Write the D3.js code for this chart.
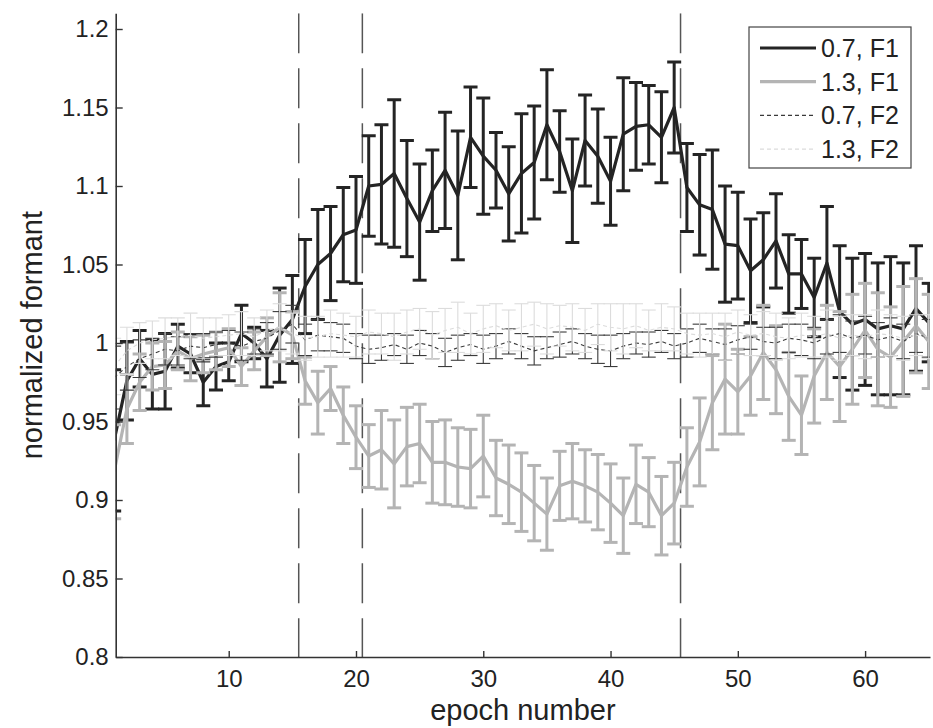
<!DOCTYPE html>
<html>
<head>
<meta charset="utf-8">
<script src="https://cdn.jsdelivr.net/npm/d3@7"></script>
<style>
  body { margin: 0; background: #fff; }
  text { font-family: "Liberation Sans", Arial, Helvetica, sans-serif; fill: #222; }
</style>
</head>
<body>
<div id="graph"></div>
<script>
// data: epochs 1..65, four conditions (mean and error)
var epochs = d3.range(1, 66);

var mean07F1 = [0.938, 0.976, 0.990, 0.980, 0.982, 0.998, 0.993, 0.975, 0.985, 0.988,
  1.006, 1.000, 0.990, 1.005, 1.015, 1.036, 1.050, 1.057, 1.069, 1.072,
  1.100, 1.101, 1.108, 1.092, 1.077, 1.097, 1.110, 1.094, 1.131, 1.119,
  1.110, 1.095, 1.108, 1.115, 1.139, 1.122, 1.097, 1.129, 1.119, 1.103,
  1.133, 1.138, 1.139, 1.131, 1.150, 1.099, 1.088, 1.085, 1.063, 1.062,
  1.046, 1.053, 1.065, 1.044, 1.044, 1.029, 1.051, 1.020, 1.012, 1.015,
  1.009, 1.011, 1.009, 1.022, 1.013];
var err07F1 = [0.045, 0.025, 0.018, 0.022, 0.024, 0.014, 0.012, 0.015, 0.015, 0.012,
  0.018, 0.010, 0.018, 0.030, 0.028, 0.030, 0.035, 0.030, 0.030, 0.034,
  0.032, 0.038, 0.047, 0.037, 0.037, 0.026, 0.037, 0.041, 0.032, 0.037,
  0.024, 0.030, 0.038, 0.036, 0.035, 0.026, 0.033, 0.029, 0.030, 0.028,
  0.036, 0.028, 0.025, 0.029, 0.029, 0.028, 0.032, 0.038, 0.037, 0.034,
  0.033, 0.030, 0.030, 0.025, 0.022, 0.025, 0.036, 0.042, 0.042, 0.042,
  0.042, 0.044, 0.042, 0.040, 0.025];

var mean13F1 = [0.918, 0.958, 0.975, 0.985, 0.986, 0.995, 0.990, 0.993, 0.995, 0.997,
  0.985, 0.995, 1.004, 1.010, 1.005, 0.976, 0.962, 0.971, 0.954, 0.940,
  0.928, 0.932, 0.923, 0.934, 0.936, 0.924, 0.924, 0.921, 0.920, 0.928,
  0.914, 0.910, 0.905, 0.898, 0.891, 0.909, 0.912, 0.909, 0.905, 0.898,
  0.890, 0.910, 0.905, 0.890, 0.898, 0.921, 0.937, 0.962, 0.977, 0.969,
  0.979, 0.994, 0.983, 0.966, 0.954, 0.979, 0.994, 0.985, 0.996, 1.008,
  0.996, 0.991, 1.001, 1.011, 1.001];
var err13F1 = [0.030, 0.022, 0.018, 0.015, 0.015, 0.012, 0.014, 0.012, 0.012, 0.012,
  0.012, 0.012, 0.012, 0.022, 0.015, 0.015, 0.020, 0.014, 0.018, 0.020,
  0.020, 0.025, 0.028, 0.025, 0.025, 0.026, 0.027, 0.025, 0.025, 0.026,
  0.024, 0.025, 0.025, 0.024, 0.023, 0.022, 0.024, 0.023, 0.024, 0.025,
  0.024, 0.025, 0.022, 0.025, 0.026, 0.025, 0.028, 0.030, 0.035, 0.027,
  0.025, 0.030, 0.028, 0.028, 0.025, 0.030, 0.030, 0.035, 0.035, 0.030,
  0.036, 0.032, 0.035, 0.030, 0.030];

var mean07F2 = [0.978, 0.985, 0.990, 0.993, 0.996, 0.995, 0.998, 0.997, 0.999, 1.000,
  0.998, 1.001, 1.003, 1.008, 1.012, 1.002, 1.005, 1.004, 1.003, 0.998,
  0.996, 0.997, 0.999, 0.996, 1.000, 0.998, 0.994, 0.997, 0.999, 0.996,
  0.998, 1.001, 0.998, 0.995, 0.997, 0.999, 1.001, 0.998, 0.996, 0.995,
  0.998, 1.000, 0.999, 1.001, 0.998, 1.000, 1.003, 1.001, 0.999, 1.002,
  1.004, 1.001, 1.000, 1.003, 1.002, 1.000, 1.004, 1.006, 1.003, 1.005,
  1.002, 1.004, 1.001, 1.006, 1.003];
var err07F2 = [0.020, 0.015, 0.012, 0.010, 0.010, 0.009, 0.008, 0.009, 0.008, 0.008,
  0.009, 0.008, 0.010, 0.012, 0.012, 0.010, 0.010, 0.009, 0.009, 0.008,
  0.009, 0.008, 0.007, 0.009, 0.008, 0.008, 0.009, 0.008, 0.007, 0.009,
  0.008, 0.008, 0.008, 0.009, 0.007, 0.008, 0.008, 0.008, 0.009, 0.010,
  0.008, 0.007, 0.008, 0.007, 0.008, 0.009, 0.009, 0.008, 0.010, 0.009,
  0.008, 0.009, 0.010, 0.009, 0.010, 0.010, 0.011, 0.012, 0.011, 0.012,
  0.011, 0.012, 0.011, 0.012, 0.012];

var mean13F2 = [0.985, 0.995, 1.000, 1.002, 1.003, 1.004, 1.005, 1.003, 1.004, 1.005,
  1.006, 1.004, 1.008, 1.010, 1.006, 1.003, 1.004, 1.006, 1.005, 1.004,
  1.007, 1.006, 1.004, 1.007, 1.009, 1.005, 1.008, 1.010, 1.006, 1.009,
  1.011, 1.008, 1.010, 1.012, 1.009, 1.011, 1.010, 1.008, 1.012, 1.010,
  1.009, 1.011, 1.008, 1.010, 1.009, 1.006, 1.005, 1.006, 1.004, 1.007,
  1.005, 1.006, 1.004, 1.003, 1.005, 1.004, 1.006, 1.003, 1.005, 1.004,
  1.006, 1.005, 1.003, 1.005, 1.004];
var err13F2 = [0.018, 0.015, 0.013, 0.012, 0.013, 0.012, 0.014, 0.013, 0.012, 0.013,
  0.014, 0.012, 0.013, 0.015, 0.013, 0.014, 0.013, 0.015, 0.014, 0.013,
  0.014, 0.013, 0.015, 0.014, 0.013, 0.015, 0.014, 0.016, 0.013, 0.015,
  0.014, 0.013, 0.015, 0.014, 0.016, 0.013, 0.015, 0.014, 0.013, 0.015,
  0.016, 0.014, 0.013, 0.015, 0.014, 0.013, 0.014, 0.013, 0.015, 0.014,
  0.013, 0.014, 0.015, 0.013, 0.014, 0.013, 0.015, 0.014, 0.013, 0.014,
  0.015, 0.013, 0.014, 0.013, 0.014];

var seriesNames = ["0.7, F1", "1.3, F1", "0.7, F2", "1.3, F2"];
var boundaries = [15.5, 20.5, 45.5];
var xTicks = [10, 20, 30, 40, 50, 60];
var yTicks = [0.8, 0.85, 0.9, 0.95, 1, 1.05, 1.1, 1.15, 1.2];

var w = 933, h = 728;
var svg = d3.select("#graph").append("svg").attr("width", w).attr("height", h);

var x = d3.scaleLinear().domain([1.12, 65.1]).range([115.7, 930]);
var y = d3.scaleLinear().domain([0.8, 1.21]).range([657, 13.3]);

// series styles (colour, width, dash)
var styles = [
  {color: "#242424", width: 3.2, dash: null, barWidth: 3},
  {color: "#b4b4b4", width: 3.2, dash: null, barWidth: 3},
  {color: "#3a3a3a", width: 1.1, dash: "4,3", barWidth: 1.1},
  {color: "#dcdcdc", width: 1.1, dash: "4,3", barWidth: 1.1}
];
var means = [mean07F1, mean13F1, mean07F2, mean13F2];
var errs = [err07F1, err13F1, err07F2, err13F2];

svg.append("clipPath").attr("id", "plotclip")
  .append("rect")
  .attr("x", x.range()[0]).attr("y", y.range()[1])
  .attr("width", x.range()[1] - x.range()[0])
  .attr("height", y.range()[0] - y.range()[1]);

var plot = svg.append("g").attr("clip-path", "url(#plotclip)");

// boundary lines between phases
plot.selectAll("line.bound")
  .data(boundaries)
  .enter().append("line")
  .attr("class", "bound")
  .attr("x1", d => x(d)).attr("x2", d => x(d))
  .attr("y1", y.range()[1]).attr("y2", y.range()[0])
  .attr("stroke", "#555").attr("stroke-width", 1.5)
  .attr("stroke-dasharray", "40,15");

var cap = 7;
means.forEach(function(m, i) {
  var st = styles[i];
  var pts = epochs.map((e, k) => ({e: e, m: m[k], err: errs[i][k]}));
  var g = plot.append("g");
  var bars = g.selectAll("g.bar").data(pts).enter().append("g")
    .attr("stroke", st.color).attr("stroke-width", st.barWidth);
  bars.append("line")
    .attr("x1", d => x(d.e)).attr("x2", d => x(d.e))
    .attr("y1", d => y(d.m - d.err)).attr("y2", d => y(d.m + d.err));
  bars.append("line")
    .attr("x1", d => x(d.e) - cap).attr("x2", d => x(d.e) + cap)
    .attr("y1", d => y(d.m - d.err)).attr("y2", d => y(d.m - d.err));
  bars.append("line")
    .attr("x1", d => x(d.e) - cap).attr("x2", d => x(d.e) + cap)
    .attr("y1", d => y(d.m + d.err)).attr("y2", d => y(d.m + d.err));
  g.append("path")
    .datum(pts)
    .attr("fill", "none")
    .attr("stroke", st.color)
    .attr("stroke-width", st.width)
    .attr("stroke-dasharray", st.dash)
    .attr("stroke-linejoin", "round")
    .attr("d", d3.line().x(d => x(d.e)).y(d => y(d.m)));
});

// axes, ticks pointing inward
var yAxis = svg.append("g")
  .attr("transform", "translate(" + x.range()[0] + ",0)")
  .call(d3.axisLeft(y).tickValues(yTicks).tickFormat(d => String(d))
    .tickSizeInner(-7).tickSizeOuter(0).tickPadding(7));
var xAxis = svg.append("g")
  .attr("transform", "translate(0," + y.range()[0] + ")")
  .call(d3.axisBottom(x).tickValues(xTicks).tickFormat(d => String(d))
    .tickSizeInner(-6).tickSizeOuter(0).tickPadding(13));

[yAxis, xAxis].forEach(function(a) {
  a.select(".domain").attr("stroke", "#333").attr("stroke-width", 1.6);
  a.selectAll(".tick line").attr("stroke", "#333").attr("stroke-width", 1.4);
  a.selectAll(".tick text").attr("font-size", 24).attr("fill", "#1e1e1e")
    .style("font-family", "'Liberation Sans', Arial, sans-serif");
});

svg.append("text")
  .attr("x", (x.range()[0] + x.range()[1]) / 2)
  .attr("y", 720)
  .attr("text-anchor", "middle")
  .attr("font-size", 29)
  .text("epoch number");

svg.append("text")
  .attr("transform", "translate(42," + (y.range()[0] + y.range()[1]) / 2 + ") rotate(-90)")
  .attr("text-anchor", "middle")
  .attr("font-size", 29)
  .text("normalized formant");

// legend
var legend = svg.append("g");
legend.append("rect")
  .attr("x", 749).attr("y", 27).attr("width", 162).attr("height", 141)
  .attr("fill", "#fff").attr("stroke", "#444").attr("stroke-width", 1.2);
var rows = legend.selectAll("g.row").data(seriesNames).enter().append("g")
  .attr("transform", (d, i) => "translate(0," + (48 + i * 33.7) + ")");
rows.append("line")
  .attr("x1", 760).attr("x2", 816).attr("y1", 0).attr("y2", 0)
  .attr("stroke", (d, i) => styles[i].color)
  .attr("stroke-width", (d, i) => styles[i].width)
  .attr("stroke-dasharray", (d, i) => styles[i].dash);
rows.append("text")
  .attr("x", 821).attr("y", 0).attr("dy", "0.36em")
  .attr("font-size", 25)
  .text(d => d);
</script>
</body>
</html>
